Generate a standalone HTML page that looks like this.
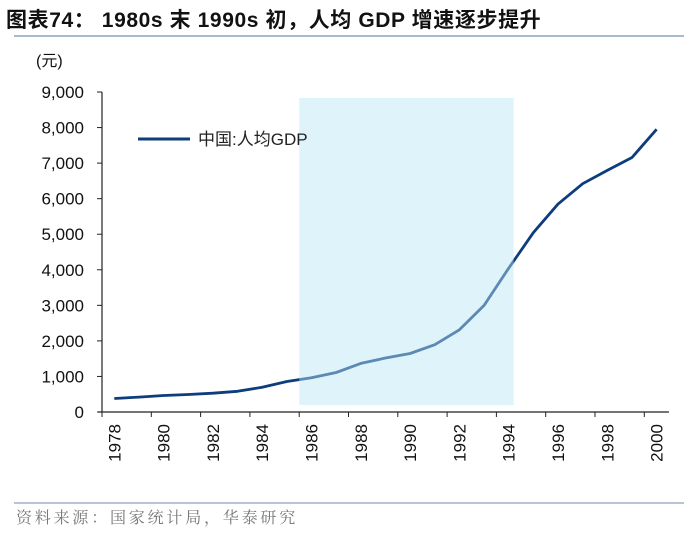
<!DOCTYPE html>
<html><head><meta charset="utf-8"><style>
body{margin:0;background:#fff;}
svg{display:block;font-family:"Liberation Sans","Noto Sans CJK SC",sans-serif;}
</style></head><body>
<svg id="c" width="700" height="535">
<text x="6" y="27" font-size="21" font-weight="bold" letter-spacing="0.6" fill="#111">图表74： 1980s 末 1990s 初，人均 GDP 增速逐步提升</text>
<line x1="14" y1="36" x2="684" y2="36" stroke="#8ba4c4" stroke-width="1.5"/>
<text x="36" y="66" font-size="16" fill="#111">(元)</text>
<g id="axes"></g>
<g id="series"></g>
<rect id="shade" fill="#bae5f6" fill-opacity="0.46"/>
<line x1="138" y1="139" x2="190" y2="139" stroke="#0d3d7c" stroke-width="3"/>
<text x="198" y="145" font-size="17" fill="#222">中国:人均GDP</text>
<line x1="14" y1="503" x2="684" y2="503" stroke="#8ba4c4" stroke-width="1.2"/>
<text x="16" y="523" font-size="16" letter-spacing="2.8" fill="#777" font-family="'Noto Serif CJK SC',serif">资料来源：国家统计局，华泰研究</text>
</svg>
<script>
const years=[1978,1979,1980,1981,1982,1983,1984,1985,1986,1987,1988,1989,1990,1991,1992,1993,1994,1995,1996,1997,1998,1999,2000];
const gdp=[381,419,463,492,528,583,695,858,963,1112,1366,1519,1644,1893,2311,2998,4044,5046,5846,6420,6796,7159,7950];
const yTicks=[0,1000,2000,3000,4000,5000,6000,7000,8000,9000];
const shadeRange=[1986,1994];
const NS="http://www.w3.org/2000/svg";
const x0=102,cw=24.65,yb=412,yt=92,ymax=9000;
const xs=i=>x0+cw*(i+0.5);
const ys=v=>yb-(v/ymax)*(yb-yt);
function mk(t,a,p){const e=document.createElementNS(NS,t);for(const k in a)e.setAttribute(k,a[k]);p.appendChild(e);return e;}
const ax=document.getElementById('axes');
let l=mk('line',{x1:x0,y1:yt,x2:x0,y2:yb,stroke:'#222','stroke-width':1.2},ax);


l=mk('line',{x1:x0-4,y1:yb,x2:x0+cw*years.length,y2:yb,stroke:'#222','stroke-width':1.2},ax);


yTicks.forEach(v=>{
 const t=mk('line',{x1:x0-5,y1:ys(v),x2:x0,y2:ys(v),stroke:'#222'},ax);
 
 
 const tx=mk('text',{x:x0-18,y:ys(v)+6,'font-size':17,'text-anchor':'end',fill:'#111'},ax);
 tx.textContent=v.toLocaleString('en-US');
 
 
});
for(let i=0;i<=years.length;i+=2){
 const t=mk('line',{x1:x0+cw*i,y1:yb,x2:x0+cw*i,y2:yb+5,stroke:'#222'},ax);
 
 
}
years.forEach((y,i)=>{
 if(i%2)return;
 const cx=xs(i)+6,cy=424;
 const tx=mk('text',{x:cx,y:cy,'font-size':17,'text-anchor':'end',fill:'#111',transform:`rotate(-90 ${cx} ${cy})`},ax);
 tx.textContent=y;
 
 
});
const d=gdp.map((v,i)=>(i?'L':'M')+xs(i).toFixed(1)+','+ys(v).toFixed(1)).join(' ');
const p=mk('path',{d:d,fill:'none',stroke:'#0d3d7c','stroke-width':2.8,'stroke-linejoin':'round'},document.getElementById('series'));


const sh=document.getElementById('shade');
const i0=years.indexOf(shadeRange[0]),i1=years.indexOf(shadeRange[1]);
sh.setAttribute('x',x0+cw*i0);
sh.setAttribute('width',cw*(i1-i0+0.7));
sh.setAttribute('y',98);sh.setAttribute('height',307);
</script>
</body></html>
